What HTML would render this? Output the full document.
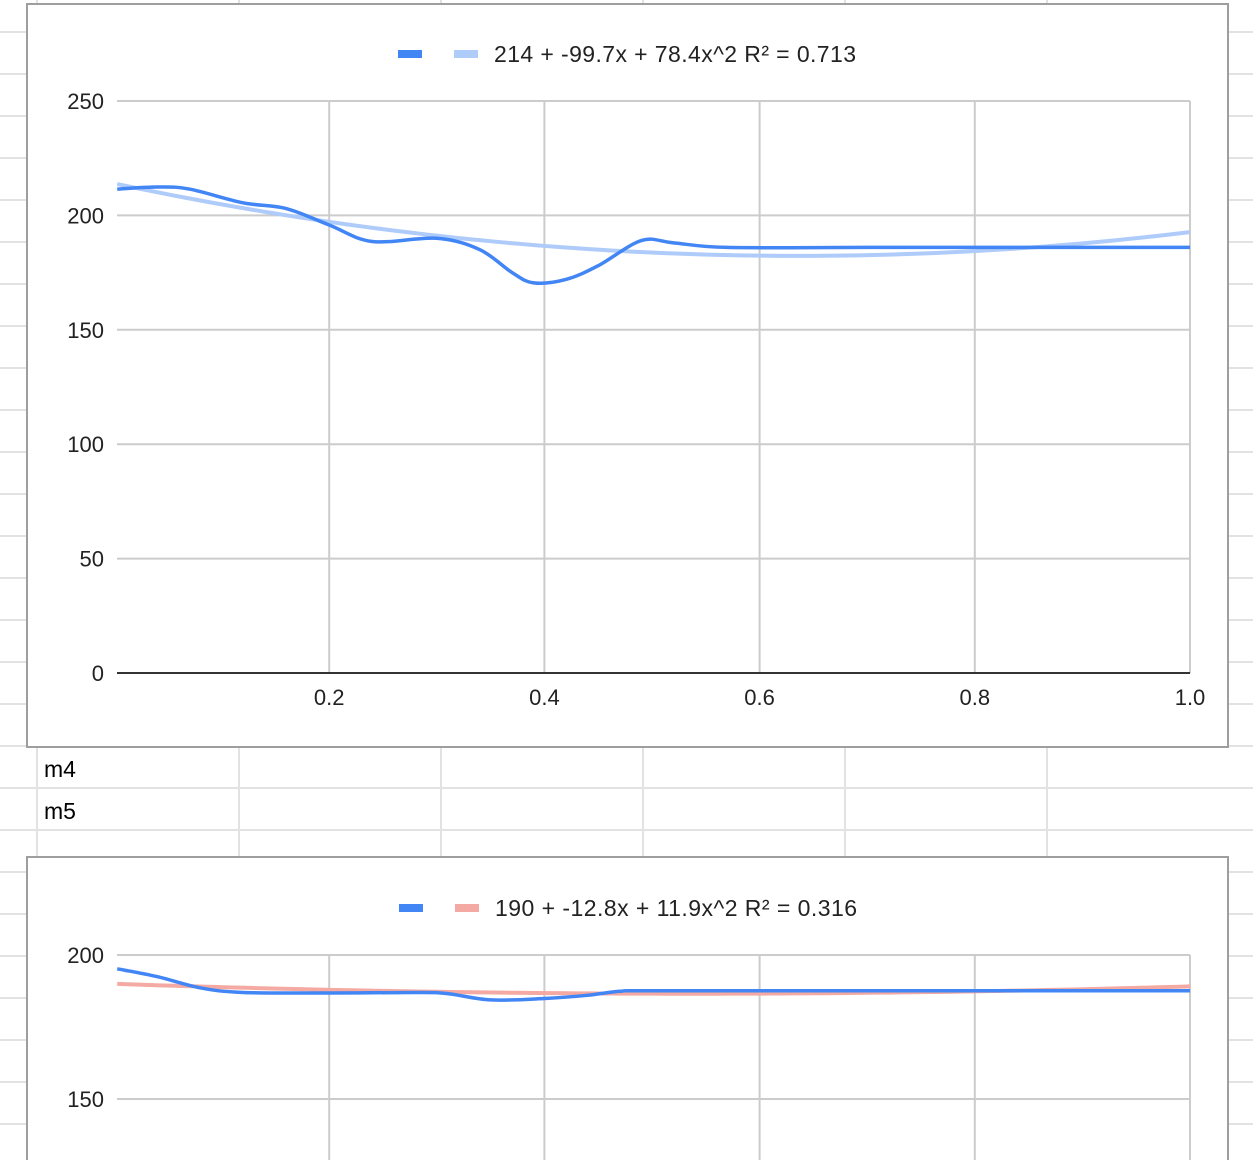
<!DOCTYPE html>
<html><head><meta charset="utf-8"><style>
html,body{margin:0;padding:0;background:#fff;}
body{width:1253px;height:1160px;overflow:hidden;position:relative;font-family:"Liberation Sans",Arial,sans-serif;}
svg{position:absolute;left:0;top:0;}
</style></head><body>
<svg id="s" width="1253" height="1160">
<g id="sheet"></g>
<text x="44" y="777" font-size="23" fill="#000">m4</text>
<text x="44" y="819" font-size="23" fill="#000">m5</text>
<g id="c1"></g>
<g id="c2"></g>
</svg>
<script>
// Chart 1 data
const xs1 = [0.003,0.04,0.07,0.12,0.16,0.2,0.24,0.3,0.34,0.37,0.39,0.42,0.45,0.49,0.52,0.57,0.7,0.85,1.0];
const ys1 = [211.5,212.4,211.5,205.5,203,195.8,188.6,190,185,175,170.5,172,178,189,188,186,186,186,186];
const trend1 = [214,-99.7,78.4];
const yTicks1 = [0,50,100,150,200,250];
const xTicks = [0.2,0.4,0.6,0.8,1.0];
const xTickLabels = ["0.2","0.4","0.6","0.8","1.0"];
// Chart 2 data
const xs2 = [0.003,0.04,0.08,0.12,0.2,0.28,0.31,0.35,0.4,0.44,0.47,0.5,0.7,1.0];
const ys2 = [195.2,192.5,188.6,187,186.8,187,186.6,184.4,184.9,186,187.4,187.6,187.6,187.6];
const trend2 = [190,-12.8,11.9];
const yTicks2 = [150,200];

const NS="http://www.w3.org/2000/svg";
function mk(p,tag,a){const e=document.createElementNS(NS,tag);for(const k in a)e.setAttribute(k,a[k]);p.appendChild(e);return e;}
const sheet=document.getElementById('sheet');
for(let y=32;y<1160;y+=42){const l=mk(sheet,'line',{x1:0,x2:1253,y1:y,y2:y,stroke:'#e2e2e2','stroke-width':2});

}
[37,239,441,643,845,1047].forEach(x=>{const l=mk(sheet,'line',{x1:x,x2:x,y1:0,y2:1160,stroke:'#e2e2e2','stroke-width':2});

});

function smooth(pts){let d=`M${pts[0][0]},${pts[0][1]}`;
for(let i=0;i<pts.length-1;i++){const p0=pts[Math.max(0,i-1)],p1=pts[i],p2=pts[i+1],p3=pts[Math.min(pts.length-1,i+2)];
const c1=[p1[0]+(p2[0]-p0[0])/6,p1[1]+(p2[1]-p0[1])/6],c2=[p2[0]-(p3[0]-p1[0])/6,p2[1]-(p3[1]-p1[1])/6];
d+=` C${c1[0]},${c1[1]} ${c2[0]},${c2[1]} ${p2[0]},${p2[1]}`;}return d;}

function chart(g,o){
 const bx=mk(g,'rect',{x:27,y:o.top,width:1201,height:o.h,fill:'#fff',stroke:'#9e9e9e','stroke-width':2});
 
 
 const X=v=>114+v*1076, Y=v=>o.y0-(v-o.v0)*o.ppu;
 const bottom=Math.min(o.top+o.h,o.plotBottom);
 xTicks.forEach((t,i)=>{const l=mk(g,'line',{x1:X(t),x2:X(t),y1:Y(o.vmax),y2:bottom,stroke:'#ccc','stroke-width':2});
  
  
  if(o.xlab){const t2=mk(g,'text',{x:X(t),y:o.xlabY,'font-size':22,fill:'#222','text-anchor':'middle'});t2.textContent=xTickLabels[i];
  
  }});
 o.yt.forEach(t=>{const l=mk(g,'line',{x1:117,x2:1190,y1:Y(t),y2:Y(t),stroke:t===0?'#333':'#ccc','stroke-width':2});
  
  
  const tx=mk(g,'text',{x:104,y:Y(t)+8,'font-size':22,fill:'#222','text-anchor':'end'});tx.textContent=t;
  
  });
 const tp=[];for(let i=0;i<=100;i++){const x=0.003+i/100*0.997;tp.push([X(x),Y(o.tr[0]+o.tr[1]*x+o.tr[2]*x*x)]);}
 const tl=mk(g,'path',{d:'M'+tp.map(p=>p.join(',')).join(' L'),fill:'none',stroke:o.tc,'stroke-width':4});
 
 
 const sp=mk(g,'path',{d:smooth(o.xs.map((x,i)=>[X(x),Y(o.ys[i])])),fill:'none',stroke:'#4285f4','stroke-width':3.5});
 
 
 const s1=mk(g,'rect',{x:o.lx,y:o.ly-4,width:24,height:8,fill:'#4285f4'});
 
 
 const s2=mk(g,'rect',{x:o.lx+56,y:o.ly-4,width:24,height:8,fill:o.tc});
 
 
 const lt=mk(g,'text',{x:o.lx+96,y:o.ly+8,'font-size':23,fill:'#222',textLength:362,lengthAdjust:'spacing'});lt.textContent=o.label;
 
 
}
chart(document.getElementById('c1'),{top:4,h:743,y0:673,v0:0,ppu:572/250,vmax:250,plotBottom:673,yt:yTicks1,xs:xs1,ys:ys1,tr:trend1,tc:'#aecbfa',lx:398,ly:54,label:'214 + -99.7x + 78.4x^2 R² = 0.713',xlab:true,xlabY:705});
chart(document.getElementById('c2'),{top:857,h:320,y0:955,v0:200,ppu:144/50,vmax:200,plotBottom:1160,yt:yTicks2,xs:xs2,ys:ys2,tr:trend2,tc:'#f4aaa3',lx:399,ly:908,label:'190 + -12.8x + 11.9x^2 R² = 0.316',xlab:false});
</script>
</body></html>
